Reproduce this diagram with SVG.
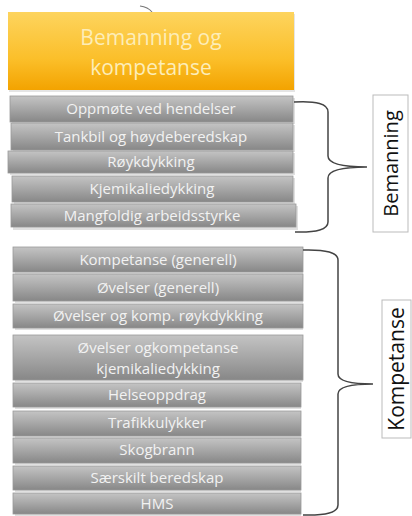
<svg xmlns="http://www.w3.org/2000/svg" width="412" height="516" viewBox="0 0 412 516">
<defs>
<linearGradient id="gy" x1="0" y1="0" x2="0" y2="1">
<stop offset="0" stop-color="#c4c4c4"/>
<stop offset="0.5" stop-color="#a6a6a6"/>
<stop offset="1" stop-color="#878787"/>
</linearGradient>
<linearGradient id="og" x1="0" y1="0" x2="0" y2="1">
<stop offset="0" stop-color="#fdd45e"/>
<stop offset="0.6" stop-color="#fbbf2a"/>
<stop offset="1" stop-color="#f3a300"/>
</linearGradient>
</defs>
<style>
.bx{fill:url(#gy);stroke:#9a9a9a;stroke-width:0.8}
.sh{fill:#000;opacity:0.12}
.t{font-family:"Open Sans","Liberation Sans",sans-serif;font-size:15px;fill:#f2f2f2;text-anchor:middle}
.br{fill:none;stroke:#444;stroke-width:1.5}
.lb{fill:#fff;stroke:#bbb;stroke-width:1}
.lt{font-family:"Open Sans","Liberation Sans",sans-serif;fill:#111;text-anchor:middle}
</style>
<rect width="412" height="516" fill="#fff"/>
<g id="header">
<path d="M140 6 Q148 7 152 12" fill="none" stroke="#777" stroke-width="1.2"/>
<rect x="9" y="14" width="286" height="78" fill="#000" opacity="0.1"/>
<rect x="8" y="12" width="286" height="78" fill="url(#og)"/>
<text x="151" y="45" font-family="'Open Sans','Liberation Sans',sans-serif" font-size="21" fill="#fdedb8" text-anchor="middle">Bemanning og</text>
<text x="151" y="75" font-family="'Open Sans','Liberation Sans',sans-serif" font-size="21" fill="#fdedb8" text-anchor="middle">kompetanse</text>
</g>
<g id="b1"><rect class="sh" x="12" y="98" width="283" height="26"/><rect class="bx" x="10" y="96" width="283" height="26"/><text class="t" x="151" y="114">Oppmøte ved hendelser</text></g>
<g id="b2"><rect class="sh" x="13" y="125" width="282" height="27"/><rect class="bx" x="11" y="123" width="282" height="27"/><text class="t" x="151" y="142">Tankbil og høydeberedskap</text></g>
<g id="b3"><rect class="sh" x="10" y="153" width="285" height="22"/><rect class="bx" x="8" y="151" width="285" height="22"/><text class="t" x="151" y="167">Røykdykking</text></g>
<g id="b4"><rect class="sh" x="14" y="178" width="281" height="26"/><rect class="bx" x="12" y="176" width="281" height="26"/><text class="t" x="152" y="194">Kjemikaliedykking</text></g>
<g id="b5"><rect class="sh" x="13" y="206" width="285" height="24"/><rect class="bx" x="11" y="204" width="285" height="23"/><text class="t" x="152" y="221">Mangfoldig arbeidsstyrke</text></g>

<g id="k1"><rect class="sh" x="15" y="249" width="288" height="25"/><rect class="bx" x="13" y="247" width="290" height="25"/><text class="t" x="158" y="265">Kompetanse (generell)</text></g>
<g id="k2"><rect class="sh" x="15" y="276" width="288" height="27"/><rect class="bx" x="13" y="274" width="290" height="27"/><text class="t" x="158" y="293">Øvelser (generell)</text></g>
<g id="k3"><rect class="sh" x="15" y="306" width="288" height="24"/><rect class="bx" x="13" y="304" width="290" height="24"/><text class="t" x="158" y="321">Øvelser og komp. røykdykking</text></g>
<g id="k4"><rect class="sh" x="15" y="337" width="288" height="45"/><rect class="bx" x="13" y="335" width="290" height="45"/><text class="t" x="158" y="353">Øvelser ogkompetanse</text><text class="t" x="158" y="374">kjemikaliedykking</text></g>
<g id="k5"><rect class="sh" x="15" y="385" width="286" height="24"/><rect class="bx" x="13" y="383" width="288" height="24"/><text class="t" x="157" y="400">Helseoppdrag</text></g>
<g id="k6"><rect class="sh" x="15" y="413" width="286" height="25"/><rect class="bx" x="13" y="411" width="288" height="25"/><text class="t" x="157" y="428">Trafikkulykker</text></g>
<g id="k7"><rect class="sh" x="15" y="440" width="286" height="25"/><rect class="bx" x="13" y="438" width="288" height="25"/><text class="t" x="157" y="455">Skogbrann</text></g>
<g id="k8"><rect class="sh" x="15" y="468" width="286" height="24"/><rect class="bx" x="13" y="466" width="288" height="24"/><text class="t" x="157" y="483">Særskilt beredskap</text></g>
<g id="k9"><rect class="sh" x="15" y="495" width="286" height="21"/><rect class="bx" x="13" y="493" width="288" height="21"/><text class="t" x="157" y="509">HMS</text></g>

<g id="connectors">
<path class="br" d="M294 102 Q328 100 328 112 L328 156 Q328 167 367 167 Q328 167 328 178 L328 222 Q328 233 295 232"/>
<path class="br" d="M303 250 Q338 249 338 260 L338 374 Q338 384 373 384 Q338 384 338 394 L338 505 Q338 516 303 515"/>
</g>
<g id="lbl-bemanning"><rect class="lb" x="373" y="95" width="35" height="137"/><text class="lt" font-size="20" transform="translate(398 163.5) rotate(-90)">Bemanning</text></g>
<g id="lbl-kompetanse"><rect class="lb" x="382" y="300" width="29" height="138"/><text class="lt" font-size="21" transform="translate(404 369) rotate(-90)">Kompetanse</text></g>
</svg>
